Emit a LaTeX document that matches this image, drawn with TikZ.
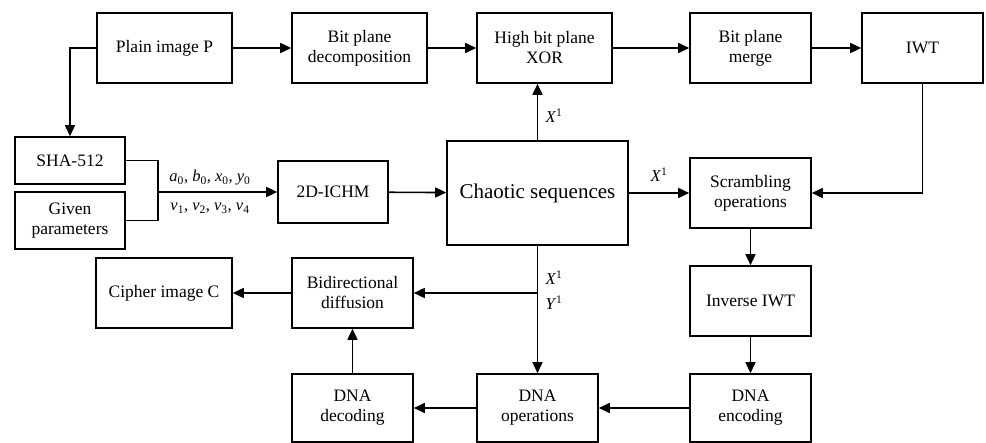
\documentclass[tikz,border=0pt]{standalone}
\usepackage{fontspec}
\setmainfont{Liberation Serif}
\usetikzlibrary{arrows.meta}
\begin{document}
\begin{tikzpicture}[x=1pt,y=-1pt,
  box/.style={draw,line width=1.6pt,inner sep=0pt,align=center,font=\fontsize{17.5}{20}\selectfont},
  arr/.style={line width=1.6pt,-{Triangle[length=11pt,width=10pt]}},
  ln/.style={line width=1.6pt},
  lab/.style={font=\fontsize{16.5}{18}\selectfont,inner sep=1pt}]
\useasboundingbox (0,0) rectangle (986,443);
\node[box,minimum width=135,minimum height=70] (plain) at (164.5,48) {Plain image P};
\node[box,minimum width=135,minimum height=70] (bpd) at (359.5,48) {Bit plane\\decomposition};
\node[box,minimum width=135,minimum height=70] (xor) at (544.5,48) {High bit plane\\XOR};
\node[box,minimum width=121,minimum height=70] (merge) at (750.5,48) {Bit plane\\merge};
\node[box,minimum width=121,minimum height=70] (iwt) at (922.5,48) {IWT};
\node[box,minimum width=110,minimum height=47] (sha) at (70,160.5) {SHA-512};
\node[box,minimum width=110,minimum height=57] (given) at (70,220.5) {Given\\parameters};
\node[box,minimum width=110,minimum height=62] (ichm) at (333,192) {2D-ICHM};
\node[box,minimum width=181,minimum height=104,font=\fontsize{21}{24}\selectfont] (chaos) at (537.5,193) {Chaotic sequences};
\node[box,minimum width=121,minimum height=70] (scr) at (750.5,193) {Scrambling\\operations};
\node[box,minimum width=121,minimum height=70] (inv) at (750.5,301) {Inverse IWT};
\node[box,minimum width=121,minimum height=68] (enc) at (750.5,408) {DNA\\encoding};
\node[box,minimum width=121,minimum height=68] (ops) at (537.5,408) {DNA\\operations};
\node[box,minimum width=121,minimum height=68] (dec) at (352.5,408) {DNA\\decoding};
\node[box,minimum width=121,minimum height=70] (bid) at (352.5,293) {Bidirectional\\diffusion};
\node[box,minimum width=136,minimum height=70] (cipher) at (164,293) {Cipher image C};
\coordinate (j) at (158,192);
\coordinate (k) at (537.5,293);
% connectors
\draw[arr] (plain) -- (bpd);
\draw[arr] (bpd) -- (xor);
\draw[arr] (xor) -- (merge);
\draw[arr] (merge) -- (iwt);
\draw[arr] (plain.west) -| (sha.north);
\draw[ln] (sha.east) -| (j);
\draw[ln] (given.east) -| (j);
\draw[arr] (j) -- (ichm.west);
\draw[arr] (ichm) -- (chaos);
\draw[arr] (chaos.north) -- (xor.south -| chaos.north);
\draw[arr] (chaos) -- (scr);
\draw[arr] (iwt.south) |- (scr.east);
\draw[arr] (scr) -- (inv);
\draw[arr] (inv) -- (enc);
\draw[arr] (enc) -- (ops);
\draw[arr] (ops) -- (dec);
\draw[arr] (dec) -- (bid);
\draw[arr] (bid) -- (cipher);
\draw[arr] (chaos.south) -- (ops.north);
\draw[arr] (k) -- (bid.east);
% labels
\node[lab] at (210,178) {\textit{a}\textsubscript{0}, \textit{b}\textsubscript{0}, \textit{x}\textsubscript{0}, \textit{y}\textsubscript{0}};
\node[lab] at (210,208) {\textit{v}\textsubscript{1}, \textit{v}\textsubscript{2}, \textit{v}\textsubscript{3}, \textit{v}\textsubscript{4}};
\node[lab] at (554,116) {\textit{X}\textsuperscript{1}};
\node[lab] at (659,175) {\textit{X}\textsuperscript{1}};
\node[lab] at (554,278) {\textit{X}\textsuperscript{1}};
\node[lab] at (554,303) {\textit{Y}\textsuperscript{1}};
\end{tikzpicture}
\end{document}
